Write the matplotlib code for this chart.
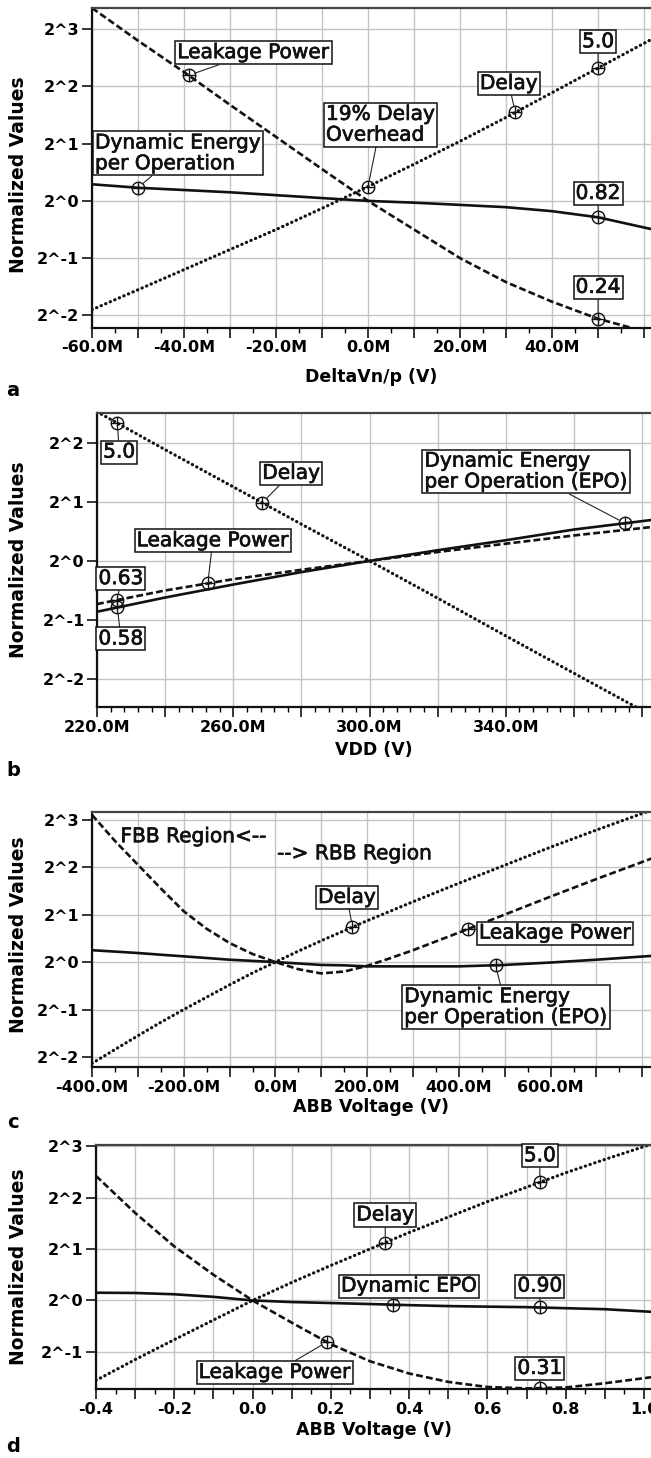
import numpy as np
import matplotlib
matplotlib.use("Agg")
import matplotlib.pyplot as plt
import matplotlib.patheffects as pe
from matplotlib.ticker import MultipleLocator, NullLocator

# ---------------- data (normalized values) ----------------
# a) DeltaVn/p sweep (mV)
xa = [-60, -50, -40, -30, -20, -10, 0, 10, 20, 30, 40, 50, 62]
delay_a = [0.268, 0.341, 0.435, 0.555, 0.707, 0.914, 1.19, 1.56, 2.06, 2.75, 3.71, 5.0, 7.16]
leak_a = [10.34, 6.96, 4.76, 3.20, 2.17, 1.47, 1.0, 0.707, 0.5, 0.374, 0.295, 0.24, 0.2]
epo_a = [1.223, 1.173, 1.141, 1.11, 1.072, 1.035, 1.0, 0.979, 0.953, 0.927, 0.883, 0.82, 0.707]
ticks_a = [-60, -40, -20, 0, 20, 40]

# b) VDD sweep (mV)
xb = [220, 240, 260, 280, 300, 320, 340, 360, 384]
delay_b = [5.74, 3.68, 2.38, 1.537, 1.0, 0.646, 0.415, 0.268, 0.159]
leak_b = [0.603, 0.707, 0.807, 0.901, 1.0, 1.11, 1.223, 1.347, 1.495]
epo_b = [0.551, 0.651, 0.758, 0.877, 1.0, 1.133, 1.274, 1.444, 1.625]
ticks_b = [220, 260, 300, 340]

# c) ABB voltage sweep (mV)
xc = [-400, -350, -300, -250, -200, -150, -100, -50, 0, 50, 100, 150, 200, 250, 300, 400, 500, 600, 700, 820]
delay_c = [0.228, 0.279, 0.341, 0.415, 0.5, 0.599, 0.717, 0.853, 1.0, 1.173, 1.366, 1.58, 1.828, 2.099,
           2.412, 3.16, 4.112, 5.35, 6.87, 9.19]
leak_c = [8.57, 5.86, 4.14, 2.93, 2.10, 1.625, 1.32, 1.125, 1.0, 0.901, 0.847, 0.871, 0.946, 1.057,
          1.189, 1.537, 2.0, 2.60, 3.36, 4.53]
epo_c = [1.189, 1.165, 1.141, 1.113, 1.087, 1.061, 1.035, 1.017, 1.0, 0.979, 0.959, 0.953, 0.939, 0.939,
         0.939, 0.939, 0.959, 0.993, 1.035, 1.094]
ticks_c = [-400, -200, 0, 200, 400, 600]

# d) ABB voltage sweep (V)
xd = [-0.4, -0.3, -0.2, -0.1, 0.0, 0.1, 0.2, 0.3, 0.4, 0.5, 0.6, 0.7, 0.8, 0.9, 1.02]
delay_d = [0.341, 0.451, 0.59, 0.768, 1.0, 1.274, 1.602, 2.0, 2.497, 3.074, 3.784, 4.595, 5.579, 6.68, 8.22]
leak_d = [5.35, 3.249, 2.071, 1.414, 1.0, 0.742, 0.555, 0.441, 0.374, 0.334, 0.312, 0.306, 0.31, 0.328, 0.356]
epo_d = [1.11, 1.106, 1.087, 1.05, 1.0, 0.979, 0.966, 0.953, 0.939, 0.927, 0.92, 0.914, 0.901, 0.889, 0.858]
ticks_d = [-0.4, -0.2, 0.0, 0.2, 0.4, 0.6, 0.8, 1.0]

# ---------------- figure ----------------
W, H = 651, 1458
fig = plt.figure(figsize=(W / 100, H / 100), dpi=100)
plt.rcParams["font.family"] = "DejaVu Sans"

LW = 1.9
FS_ANN = 14.5
HEAVY = [pe.withStroke(linewidth=0.5, foreground="#111111")]


def make_axes(left, top, bottom, xlim, ylog, major, minor, labelled, fmt):
    ax = fig.add_axes([left / W, 1 - bottom / H, (W - left) / W, (bottom - top) / H])
    ax.set_yscale("log", base=2)
    ks = [k for k in range(-3, 4) if ylog[0] <= k <= ylog[1]]
    ax.set_yticks([2.0 ** k for k in ks])
    ax.set_yticklabels([f"2^{k}" for k in ks], fontweight="bold")
    ax.yaxis.set_minor_locator(NullLocator())

    # x ticks: grid / long ticks every `major`, text only on `labelled`
    start = np.ceil(xlim[0] / major - 1e-9) * major
    pos = np.round(np.arange(start, xlim[1] + 1e-9, major), 6) + 0.0
    labs = []
    for v in pos:
        hit = [L for L in labelled if abs(v - L) < 1e-6 * major]
        labs.append(fmt(abs(v) if abs(v) < 1e-9 else v) if hit else "")
    ax.set_xticks(pos)
    ax.set_xticklabels(labs, fontweight="bold")
    ax.xaxis.set_minor_locator(MultipleLocator(minor))
    ax.set_xlim(*xlim)
    ax.set_ylim(2 ** ylog[0], 2 ** ylog[1])

    ax.grid(True, which="major", color="#c4c4c4", lw=1.0)
    ax.set_axisbelow(True)
    ax.tick_params(which="major", direction="out", length=7, width=1.1, labelsize=11.5, pad=2)
    ax.tick_params(which="minor", direction="out", length=3.5, width=1.0)
    ax.spines["right"].set_visible(False)
    ax.spines["top"].set_color("#444444")
    ax.spines["top"].set_linewidth(1.6)
    for s in ("left", "bottom"):
        ax.spines[s].set_linewidth(1.6)
        ax.spines[s].set_color("#111111")
    return ax


def curves(ax, x, delay, leak, epo):
    ax.plot(x, epo, color="#111111", lw=LW, solid_capstyle="butt")
    ax.plot(x, leak, color="#111111", lw=LW, dashes=(2.6, 1.2))
    ax.plot(x, delay, color="#111111", lw=2.3, dashes=(0.1, 1.45), dash_capstyle="round")


def on_curve(x, xs, ys):
    return 2 ** np.interp(x, xs, np.log2(ys))


def mark(ax, mx, my):
    ax.plot([mx], [my], "o", ms=9, mfc="none", mec="#111111", mew=1.0)
    ax.plot([mx], [my], "+", ms=9, mec="#111111", mew=1.0)


def ann(ax, text, mx, my, tx, ty, ha="center"):
    mark(ax, mx, my)
    t = ax.annotate(text, xy=(mx, my), xytext=(tx, ty), textcoords="data",
                    ha=ha, va="center", multialignment="left",
                    fontsize=FS_ANN, linespacing=1.12, color="#111111",
                    bbox=dict(boxstyle="square,pad=0.1", fc="white", ec="#111111", lw=1.1),
                    arrowprops=dict(arrowstyle="-", color="#222222", lw=0.8,
                                    shrinkA=0, shrinkB=4.5))
    t.set_path_effects(HEAVY)


def frame_text(left, ylab_y, xlab_y, letter_y, xlabel, letter):
    fig.text(19 / W, 1 - ylab_y / H, "Normalized Values", rotation=90, ha="center",
             va="center", fontsize=13.5, fontweight="bold")
    fig.text((left + W) / 2 / W, 1 - xlab_y / H, xlabel, ha="center", va="center",
             fontsize=12.5, fontweight="bold")
    fig.text(13 / W, 1 - letter_y / H, letter, ha="center", va="center",
             fontsize=14, fontweight="bold")


mfmt = lambda v: f"{v:.1f}M"

# ---------------- panel a ----------------
ax = make_axes(92, 8, 328, (-60, 61.5), (-2.22, 3.37), 10, 5, ticks_a, mfmt)
curves(ax, xa, delay_a, leak_a, epo_a)
ann(ax, "Leakage Power", -39, on_curve(-39, xa, leak_a), -24.9, 2 ** 2.59)
ann(ax, "Delay", 32, on_curve(32, xa, delay_a), 30.6, 2 ** 2.05)
ann(ax, "19% Delay\nOverhead", 0, on_curve(0, xa, delay_a), 2.7, 2 ** 1.33)
ann(ax, "Dynamic Energy\nper Operation", -50, on_curve(-50, xa, epo_a), -41.3, 2 ** 0.83)
ann(ax, "0.82", 50, on_curve(50, xa, epo_a), 50, 2 ** 0.13)
ann(ax, "5.0", 50, on_curve(50, xa, delay_a), 50, 2 ** 2.78)
ann(ax, "0.24", 50, on_curve(50, xa, leak_a), 50, 2 ** -1.51)
frame_text(92, 175, 377, 390, "DeltaVn/p (V)", "a")

# ---------------- panel b ----------------
ax = make_axes(97, 413, 707, (220, 382.6), (-2.47, 2.5), 20, 4, ticks_b, mfmt)
curves(ax, xb, delay_b, leak_b, epo_b)
ann(ax, "5.0", 226, on_curve(226, xb, delay_b), 226.5, 2 ** 1.84)
ann(ax, "Delay", 268.5, on_curve(268.5, xb, delay_b), 277, 2 ** 1.48)
ann(ax, "Dynamic Energy\nper Operation (EPO)", 375, on_curve(375, xb, epo_b), 346, 2 ** 1.51)
ann(ax, "Leakage Power", 252.5, on_curve(252.5, xb, leak_b), 254, 2 ** 0.34)
ann(ax, "0.63", 226, on_curve(226, xb, leak_b), 227, 2 ** -0.30)
ann(ax, "0.58", 226, on_curve(226, xb, epo_b), 227, 2 ** -1.32)
frame_text(97, 560, 750, 770, "VDD (V)", "b")

# ---------------- panel c ----------------
ax = make_axes(92, 812, 1067, (-400, 819), (-2.21, 3.16), 100, 50, ticks_c, mfmt)
curves(ax, xc, delay_c, leak_c, epo_c)
ann(ax, "Delay", 168, on_curve(168, xc, delay_c), 156, 2 ** 1.36)
ann(ax, "Leakage Power", 420, on_curve(420, xc, leak_c), 610, 2 ** 0.61)
ann(ax, "Dynamic Energy\nper Operation (EPO)", 480, on_curve(480, xc, epo_c), 503, 2 ** -0.95)
for txt, tx, ty in [("FBB Region<--", -338, 2 ** 2.64), ("--> RBB Region", 3.6, 2 ** 2.28)]:
    t = ax.text(tx, ty, txt, ha="left", va="center", fontsize=FS_ANN, color="#111111")
    t.set_path_effects(HEAVY)
frame_text(92, 935, 1107, 1122, "ABB Voltage (V)", "c")

# ---------------- panel d ----------------
ax = make_axes(96, 1145, 1389, (-0.4, 1.018), (-1.72, 3.02), 0.1, 0.05, ticks_d, lambda v: f"{v:.1f}")
curves(ax, xd, delay_d, leak_d, epo_d)
ann(ax, "5.0", 0.734, on_curve(0.734, xd, delay_d), 0.734, 2 ** 2.81)
ann(ax, "Delay", 0.339, on_curve(0.339, xd, delay_d), 0.339, 2 ** 1.66)
ann(ax, "Dynamic EPO", 0.358, on_curve(0.358, xd, epo_d), 0.40, 2 ** 0.28)
ann(ax, "0.90", 0.734, on_curve(0.734, xd, epo_d), 0.734, 2 ** 0.28)
ann(ax, "Leakage Power", 0.19, on_curve(0.19, xd, leak_d), 0.057, 2 ** -1.40)
ann(ax, "0.31", 0.734, on_curve(0.734, xd, leak_d), 0.734, 2 ** -1.32)
frame_text(96, 1267, 1430, 1447, "ABB Voltage (V)", "d")

fig.savefig("out.png", dpi=100)
